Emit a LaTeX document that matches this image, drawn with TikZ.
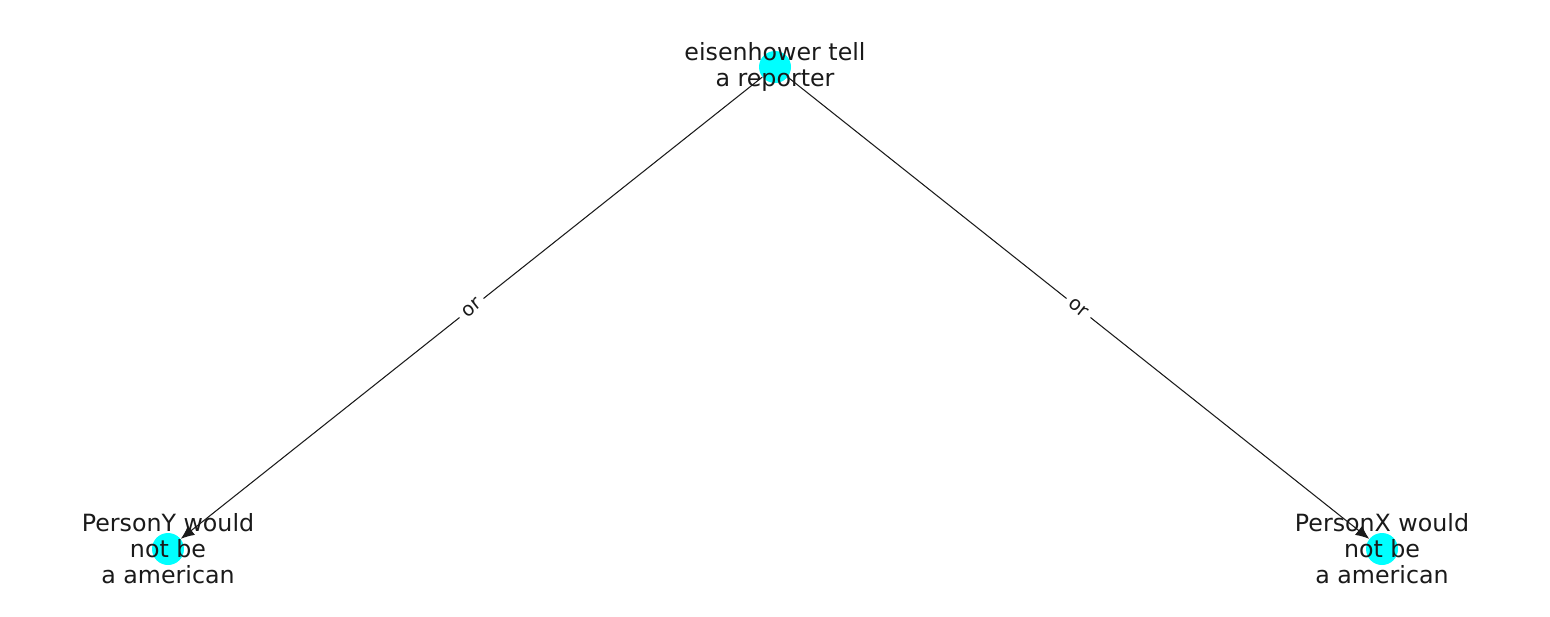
\documentclass[tikz,border=0pt]{standalone}
\usepackage{fontspec}
\setmainfont{DejaVu Sans}
\usetikzlibrary{arrows.meta}
\definecolor{nodecyan}{HTML}{00FFFF}
\definecolor{ink}{HTML}{1A1A1A}
\begin{document}
\begin{tikzpicture}[x=0.02cm,y=-0.02cm,
  dot/.style={circle, fill=nodecyan, minimum size=0.64cm, inner sep=0pt},
  txt/.style={align=center, text=ink, font=\fontsize{13.5}{14.8}\selectfont},
  rel/.style={sloped, fill=white, inner sep=3pt, text=ink, font=\fontsize{11}{12}\selectfont}]
\useasboundingbox (0,0) rectangle (1550,616);
\node[dot] (tell) at (775,67) {};
\node[dot] (persy) at (168,549) {};
\node[dot] (persx) at (1382,549) {};

\path[draw,ink,line width=0.6pt,->,>={Latex[length=2.7mm,width=2.3mm]}] (tell) -- node[rel] {or} (persy);
\path[draw,ink,line width=0.6pt,->,>={Latex[length=2.7mm,width=2.3mm]}] (tell) -- node[rel] {or} (persx);

\node[txt] (tellt) at (tell) {eisenhower tell\\a reporter};
\node[txt] (persyt) at (persy) {PersonY would\\not be\\a american};
\node[txt] (persxt) at (persx) {PersonX would\\not be\\a american};
\end{tikzpicture}
\end{document}
